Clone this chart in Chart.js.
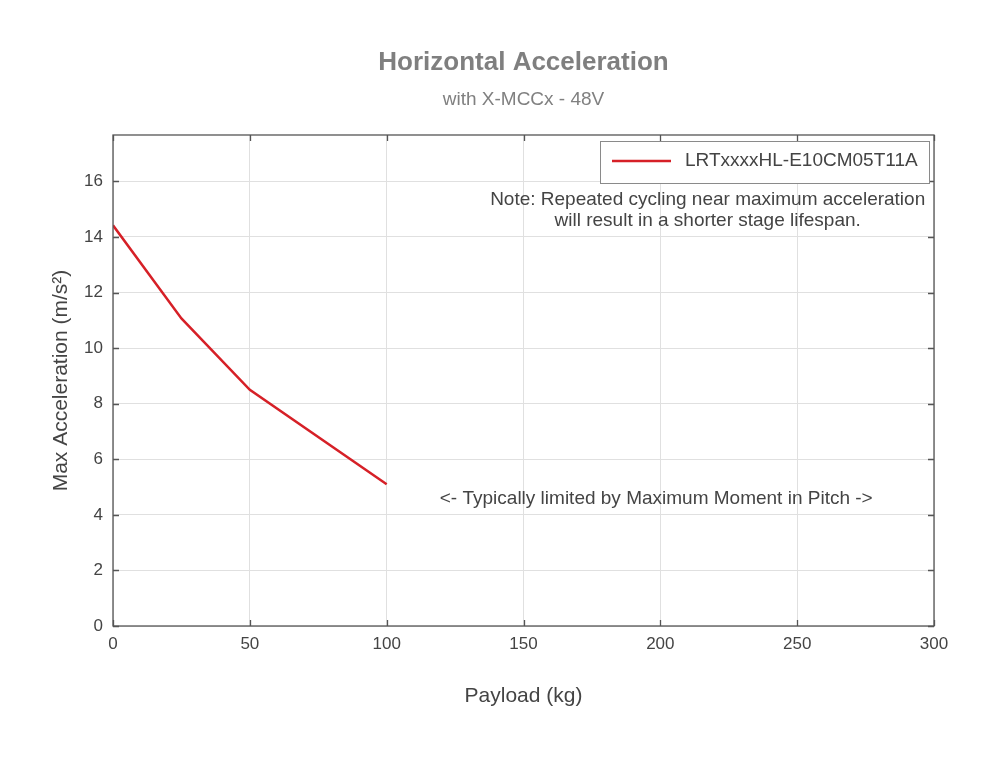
<!DOCTYPE html>
<html>
<head>
<meta charset="utf-8">
<script src="https://cdn.jsdelivr.net/npm/chart.js@4.4.1/dist/chart.umd.min.js"></script>
<style>
html,body{margin:0;padding:0;background:#fff;}
#wrap{width:1000px;height:757px;position:relative;}
</style>
</head>
<body>
<div id="wrap"><canvas id="c" width="1000" height="757"></canvas></div>
<script>
const payload = [0, 25, 50, 100];
const maxAccel = [14.42, 11.07, 8.5, 5.1];
const seriesLabel = 'LRTxxxxHL-E10CM05T11A';
const xTicks = [0, 50, 100, 150, 200, 250, 300];
const yTicks = [0, 2, 4, 6, 8, 10, 12, 14, 16];
const titleText = 'Horizontal Acceleration';
const subtitleText = 'with X-MCCx - 48V';
const xTitle = 'Payload (kg)';
const yTitle = 'Max Acceleration (m/s\u00b2)';
const noteLines = ['Note: Repeated cycling near maximum acceleration', 'will result in a shorter stage lifespan.'];
const limitNote = '<- Typically limited by Maximum Moment in Pitch ->';

const FONT = "'Liberation Sans', Arial, sans-serif";
const TXT = '#444444';
const RED = '#d62027';

const framePlugin = {
  id: 'frame',
  afterDatasetsDraw(chart) {
    const {ctx, chartArea: a, scales: {x, y}} = chart;
    ctx.save();
    ctx.strokeStyle = '#555555';
    ctx.lineWidth = 1.3;
    ctx.strokeRect(a.left, a.top, a.right - a.left, a.bottom - a.top);
    const tl = 6;
    ctx.beginPath();
    xTicks.forEach(v => {
      const px = Math.round(x.getPixelForValue(v)) + 0.5;
      ctx.moveTo(px, a.bottom); ctx.lineTo(px, a.bottom - tl);
      ctx.moveTo(px, a.top); ctx.lineTo(px, a.top + tl);
    });
    yTicks.forEach(v => {
      const py = Math.round(y.getPixelForValue(v)) + 0.5;
      ctx.moveTo(a.left, py); ctx.lineTo(a.left + tl, py);
      ctx.moveTo(a.right, py); ctx.lineTo(a.right - tl, py);
    });
    ctx.stroke();

    // title + subtitle centred over the plot area
    const cx = (a.left + a.right) / 2;
    ctx.textAlign = 'center';
    ctx.textBaseline = 'middle';
    ctx.fillStyle = '#7f7f7f';
    ctx.font = 'bold 26px ' + FONT;
    ctx.fillText(titleText, cx, a.top - 72);
    ctx.fillStyle = '#808080';
    ctx.font = '19px ' + FONT;
    ctx.fillText(subtitleText, cx, a.top - 35);

    // legend box
    const bx = a.right - 334, by = a.top + 6, bw = 329, bh = 42;
    ctx.fillStyle = '#ffffff';
    ctx.fillRect(bx, by, bw, bh);
    ctx.strokeStyle = '#8a8a8a';
    ctx.lineWidth = 1;
    ctx.strokeRect(bx + 0.5, by + 0.5, bw, bh);
    ctx.strokeStyle = RED;
    ctx.lineWidth = 2.5;
    ctx.beginPath();
    ctx.moveTo(bx + 12, by + 20); ctx.lineTo(bx + 71, by + 20);
    ctx.stroke();
    ctx.fillStyle = TXT;
    ctx.font = '19px ' + FONT;
    ctx.textAlign = 'left';
    ctx.fillText(chart.data.datasets[0].label, bx + 85, by + 20);

    // notes
    ctx.textAlign = 'center';
    ctx.fillText(noteLines[0], x.getPixelForValue(217.3), a.top + 65);
    ctx.fillText(noteLines[1], x.getPixelForValue(217.3), a.top + 86);
    ctx.fillText(limitNote, x.getPixelForValue(198.5), y.getPixelForValue(4.57));
    ctx.restore();
  }
};

new Chart(document.getElementById('c'), {
  type: 'line',
  data: {
    datasets: [{
      label: seriesLabel,
      data: payload.map((p, i) => ({x: p, y: maxAccel[i]})),
      borderColor: RED,
      backgroundColor: RED,
      borderWidth: 2.5,
      pointRadius: 0,
      tension: 0,
      fill: false
    }]
  },
  options: {
    responsive: false,
    animation: false,
    devicePixelRatio: 1,
    layout: {padding: {left: 0, right: 66, top: 135, bottom: 0}},
    plugins: {
      legend: {display: false},
      tooltip: {enabled: false},
      title: {display: false},
      subtitle: {display: false}
    },
    scales: {
      x: {
        type: 'linear', min: 0, max: 300,
        afterBuildTicks: s => { s.ticks = xTicks.map(v => ({value: v})); },
        afterFit: s => { s.height = 131; },
        grid: {color: '#e0e0e0', drawTicks: false, lineWidth: 1},
        border: {display: false},
        ticks: {color: TXT, font: {family: FONT, size: 17}, padding: 8, maxRotation: 0},
        title: {display: true, text: xTitle, color: TXT, font: {family: FONT, size: 21}, padding: {top: 0, bottom: 48}}
      },
      y: {
        type: 'linear', min: 0, max: 17.67,
        afterBuildTicks: s => { s.ticks = yTicks.map(v => ({value: v})); },
        afterFit: s => { s.width = 113; },
        grid: {color: '#e0e0e0', drawTicks: false, lineWidth: 1},
        border: {display: false},
        ticks: {color: TXT, font: {family: FONT, size: 17}, padding: 10},
        title: {display: true, text: yTitle, color: TXT, font: {family: FONT, size: 21}, padding: {top: 49, bottom: 0}}
      }
    }
  },
  plugins: [framePlugin]
});
</script>
</body>
</html>
